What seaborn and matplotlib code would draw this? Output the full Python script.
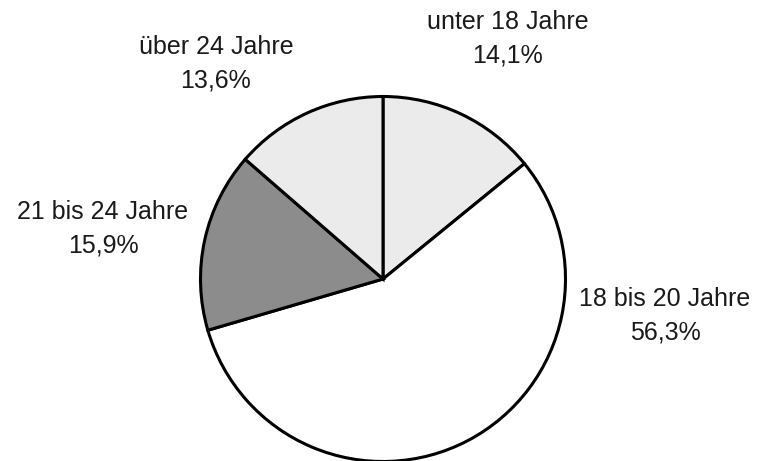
import matplotlib
matplotlib.use("Agg")
import matplotlib.pyplot as plt
import seaborn as sns

categories = ["unter 18 Jahre", "18 bis 20 Jahre", "21 bis 24 Jahre", "über 24 Jahre"]
values = [14.1, 56.3, 15.9, 13.6]
value_labels = ["14,1%", "56,3%", "15,9%", "13,6%"]
colors = ["#ebebeb", "#ffffff", "#8c8c8c", "#ebebeb"]

sns.set_theme(style="white")
plt.rcParams["font.family"] = ["Liberation Sans", "DejaVu Sans"]

W, H = 760, 461
fig = plt.figure(figsize=(W / 100, H / 100), dpi=100)
ax = fig.add_axes([0, 0, 1, 1])

cx, cy, r = 383, H - 279, 182.5
ax.pie(values, colors=colors, startangle=90, counterclock=False,
       center=(cx, cy), radius=r, frame=True,
       wedgeprops=dict(edgecolor="black", linewidth=2.2))
ax.set_xlim(0, W)
ax.set_ylim(0, H)
ax.set_aspect("equal")
ax.axis("off")

label_pos = [(508, 39), (665, 316), (103, 229), (216, 64)]
for cat, vl, (x, y) in zip(categories, value_labels, label_pos):
    ax.text(x, H - y, cat + "\n" + vl, ha="center", va="center",
            fontsize=18, color="#1a1a1a", linespacing=1.5)

fig.savefig("out.png", dpi=100, facecolor="white")
